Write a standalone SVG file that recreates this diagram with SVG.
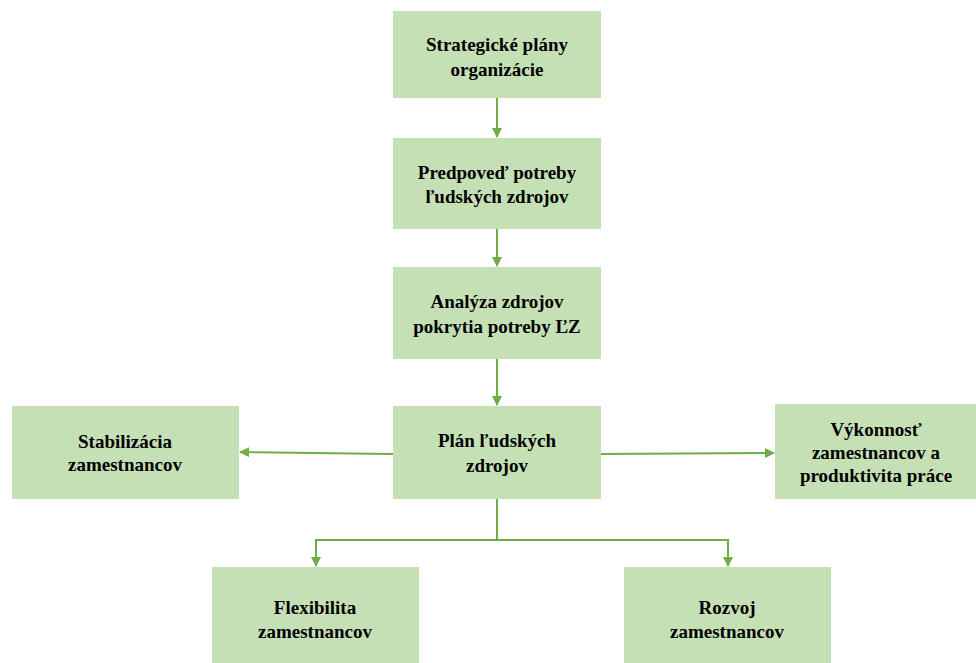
<svg xmlns="http://www.w3.org/2000/svg" width="976" height="663" viewBox="0 0 976 663">
<defs>
<style>
.box{fill:#C5E0B4;}
.t{font-weight:bold;font-size:19px;fill:#000;text-anchor:middle;}
.c{stroke:#70AD47;stroke-width:2;fill:none;}
</style>
<marker id="ah" markerWidth="10" markerHeight="10" refX="9" refY="5" orient="auto" markerUnits="userSpaceOnUse">
<path d="M0,0 L10,5 L0,10 z" fill="#70AD47"/>
</marker>
</defs>
<rect width="976" height="663" fill="#fff"/>
<g font-family="'Liberation Serif', 'Times New Roman', Times, serif">
<g id="n1"><rect class="box" x="393" y="11" width="208" height="87"/>
<text class="t" x="497" y="51">Strategické plány</text><text class="t" x="497" y="76">organizácie</text></g>
<g id="n2"><rect class="box" x="393" y="138" width="208" height="91"/>
<text class="t" x="497" y="179">Predpoveď potreby</text><text class="t" x="497" y="203">ľudských zdrojov</text></g>
<g id="n3"><rect class="box" x="393" y="267" width="208" height="92"/>
<text class="t" x="497" y="308">Analýza zdrojov</text><text class="t" x="497" y="333">pokrytia potreby ĽZ</text></g>
<g id="n4"><rect class="box" x="393" y="406" width="208" height="93"/>
<text class="t" x="497" y="447">Plán ľudských</text><text class="t" x="497" y="472">zdrojov</text></g>
<g id="n5"><rect class="box" x="12" y="406" width="227" height="93"/>
<text class="t" x="125" y="448">Stabilizácia</text><text class="t" x="125" y="471">zamestnancov</text></g>
<g id="n6"><rect class="box" x="775" y="404" width="201" height="95"/>
<text class="t" x="876" y="436">Výkonnosť</text><text class="t" x="876" y="459">zamestnancov a</text><text class="t" x="876" y="482">produktivita práce</text></g>
<g id="n7"><rect class="box" x="212" y="567" width="207" height="96"/>
<text class="t" x="315" y="614">Flexibilita</text><text class="t" x="315" y="638">zamestnancov</text></g>
<g id="n8"><rect class="box" x="624" y="567" width="207" height="96"/>
<text class="t" x="727" y="614">Rozvoj</text><text class="t" x="727" y="638">zamestnancov</text></g>
</g>
<g id="connectors">
<line class="c" x1="497" y1="98" x2="497" y2="137" marker-end="url(#ah)"/>
<line class="c" x1="497" y1="229" x2="497" y2="266" marker-end="url(#ah)"/>
<line class="c" x1="497" y1="359" x2="497" y2="405" marker-end="url(#ah)"/>
<line class="c" x1="393" y1="454" x2="240" y2="452" marker-end="url(#ah)"/>
<line class="c" x1="601" y1="454" x2="774" y2="453" marker-end="url(#ah)"/>
<polyline class="c" points="497,499 497,540 316,540 316,566" marker-end="url(#ah)"/>
<polyline class="c" points="497,540 728,540 728,566" marker-end="url(#ah)"/>
</g>
</svg>
